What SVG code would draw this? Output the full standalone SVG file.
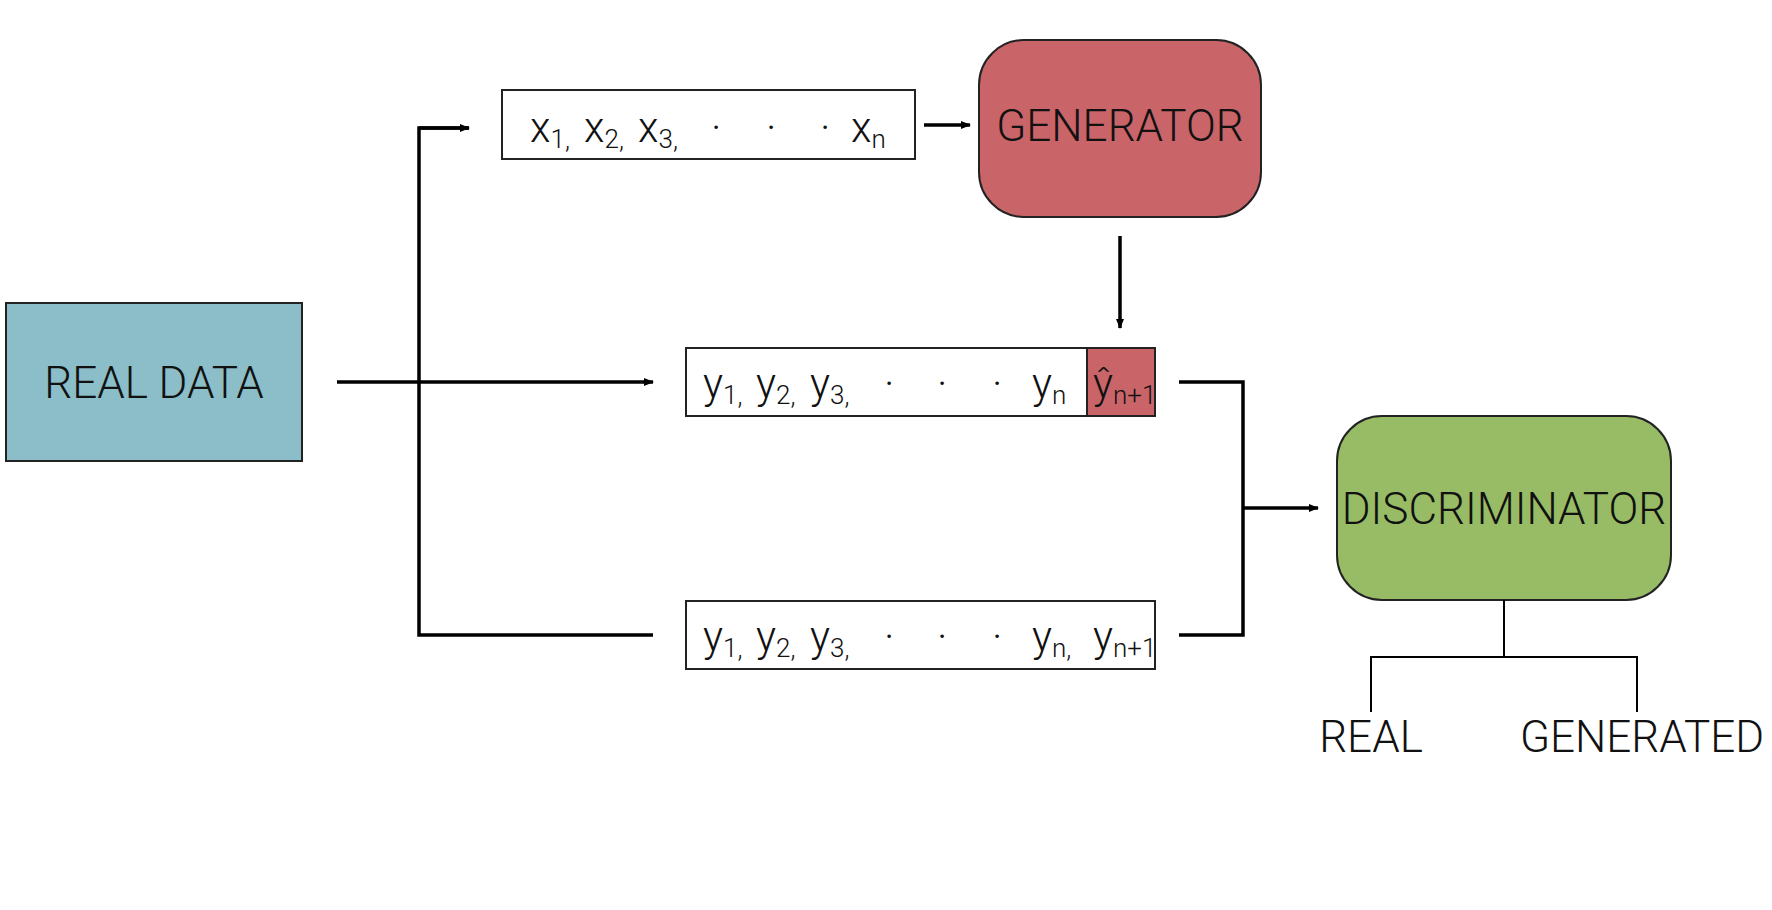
<svg xmlns="http://www.w3.org/2000/svg" width="1772" height="910" viewBox="0 0 1772 910">
<defs>
<marker id="ah" markerWidth="10" markerHeight="8" refX="9" refY="4" orient="auto" markerUnits="userSpaceOnUse" viewBox="0 0 10 8"><path d="M0,0 L10,4 L0,8 z" fill="#000"/></marker>
<style>
text{font-family:Roboto,"Liberation Sans",sans-serif;font-weight:300;fill:#111}
.lbl{font-size:44px;text-anchor:middle}
.v{font-size:42px}
.s{font-size:26px}
.c{stroke:#000;stroke-width:3.5;fill:none}
.t{stroke:#000;stroke-width:2;fill:none}
</style>
</defs>
<rect width="1772" height="910" fill="#fff"/>
<g id="realdata"><rect x="6" y="303" width="296" height="158" fill="#8bbec8" stroke="#222" stroke-width="2"/><text class="lbl" x="154" y="398">REAL DATA</text></g>
<g id="xbox"><rect x="502" y="90" width="413" height="69" fill="#fff" stroke="#222" stroke-width="2"/>
<text class="v" x="530" y="142">x<tspan class="s" dy="6">1,</tspan></text>
<text class="v" x="584" y="142">x<tspan class="s" dy="6">2,</tspan></text>
<text class="v" x="638" y="142">x<tspan class="s" dy="6">3,</tspan></text>
<text class="v" x="711" y="142">·</text><text class="v" x="766" y="142">·</text><text class="v" x="820" y="142">·</text>
<text class="v" x="851" y="142">x<tspan class="s" dy="6">n</tspan></text></g>
<g id="generator"><rect x="979" y="40" width="282" height="177" rx="45" fill="#c96468" stroke="#222" stroke-width="2"/><text class="lbl" x="1120" y="141">GENERATOR</text></g>
<g id="ybox1"><rect x="686" y="348" width="469" height="68" fill="#fff" stroke="#222" stroke-width="2"/><rect x="1087" y="348" width="68" height="68" fill="#c96468" stroke="#222" stroke-width="2"/>
<text class="v" x="703" y="398">y<tspan class="s" dy="6">1,</tspan></text>
<text class="v" x="756" y="398">y<tspan class="s" dy="6">2,</tspan></text>
<text class="v" x="810" y="398">y<tspan class="s" dy="6">3,</tspan></text>
<text class="v" x="884" y="398">·</text><text class="v" x="937" y="398">·</text><text class="v" x="992" y="398">·</text>
<text class="v" x="1032" y="398">y<tspan class="s" dy="6">n</tspan></text>
<text class="v" x="1093" y="398">ŷ<tspan class="s" dy="6">n+1</tspan></text></g>
<g id="ybox2"><rect x="686" y="601" width="469" height="68" fill="#fff" stroke="#222" stroke-width="2"/>
<text class="v" x="703" y="651">y<tspan class="s" dy="6">1,</tspan></text>
<text class="v" x="756" y="651">y<tspan class="s" dy="6">2,</tspan></text>
<text class="v" x="810" y="651">y<tspan class="s" dy="6">3,</tspan></text>
<text class="v" x="884" y="651">·</text><text class="v" x="937" y="651">·</text><text class="v" x="992" y="651">·</text>
<text class="v" x="1032" y="651">y<tspan class="s" dy="6">n,</tspan></text>
<text class="v" x="1093" y="651">y<tspan class="s" dy="6">n+1</tspan></text></g>
<g id="discriminator"><rect x="1337" y="416" width="334" height="184" rx="45" fill="#98bc65" stroke="#222" stroke-width="2"/><text class="lbl" x="1504" y="524">DISCRIMINATOR</text></g>
<g id="outputs"><text class="lbl" x="1371" y="752">REAL</text><text class="lbl" x="1642" y="752">GENERATED</text></g>
<g id="connectors">
<path class="c" d="M337,382 H653" marker-end="url(#ah)"/>
<path class="c" d="M469,128 H419 V635 H653" marker-start="url(#ahs)"/>
<path class="c" d="M419,128 H469" marker-end="url(#ah)"/>
<path class="c" d="M924,125 H970" marker-end="url(#ah)"/>
<path class="c" d="M1120,236 V328" marker-end="url(#ah)"/>
<path class="c" d="M1179,382 H1243 V635 H1179"/>
<path class="c" d="M1243,508 H1318" marker-end="url(#ah)"/>
<path class="t" d="M1504,600 V657 M1371,712 V657 H1637 V712"/>
</g>
</svg>
